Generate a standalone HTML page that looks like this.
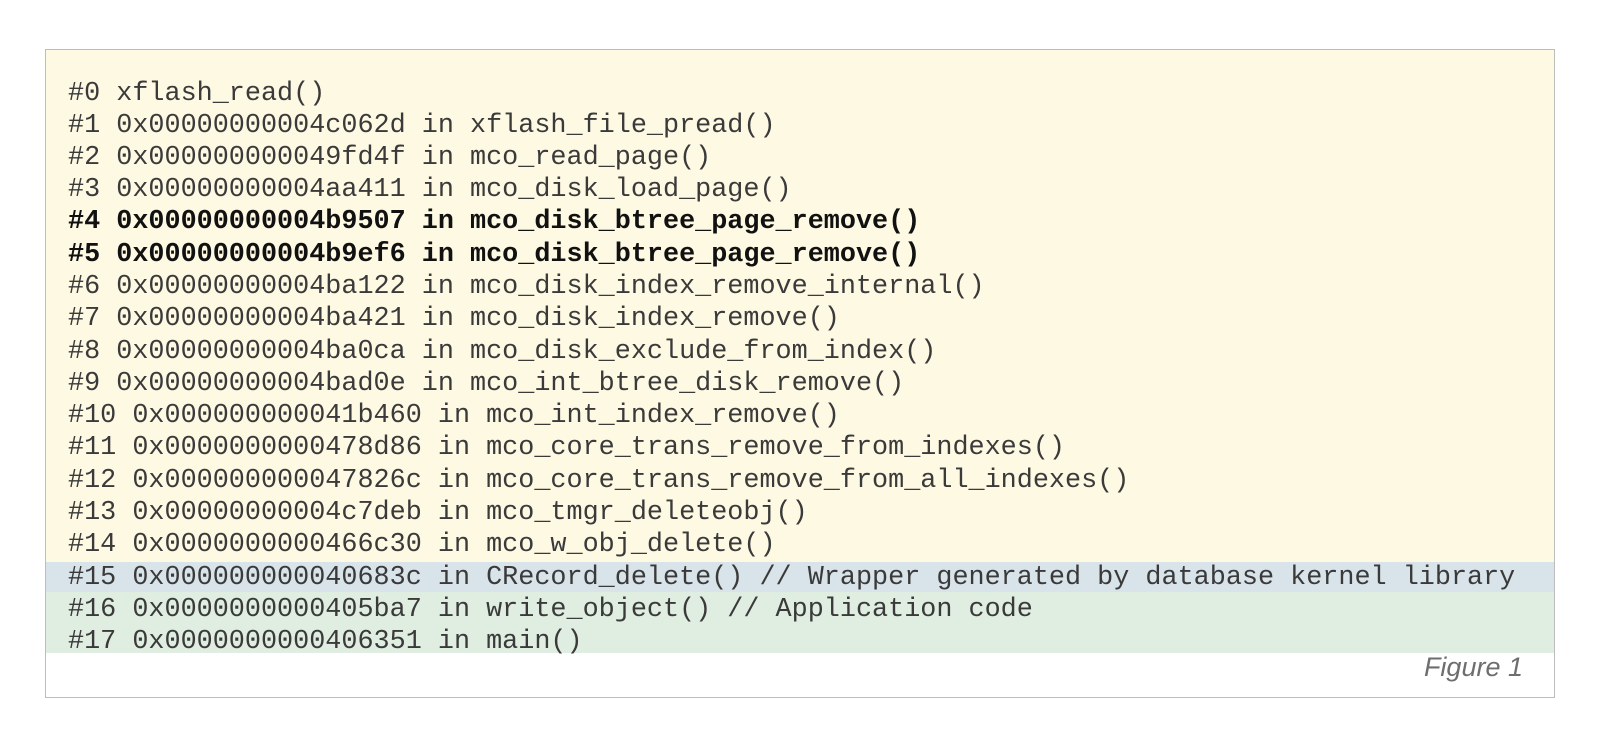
<!DOCTYPE html>
<html><head><style>
html,body{margin:0;padding:0;background:#fff;width:1600px;height:739px;overflow:hidden}
.box{position:absolute;left:45px;top:49px;width:1508px;height:647px;border:1px solid #bdbdbd;background:#fff}
.band{position:absolute;left:46px;width:1508px}
.l{position:absolute;left:68px;font-family:"Liberation Mono",monospace;font-size:26.8px;line-height:32px;height:32px;color:#3a3a3a;white-space:pre}
.b{font-weight:bold;color:#111}
.fig{position:absolute;right:77px;top:652px;font-family:"Liberation Sans",sans-serif;font-style:italic;font-size:27px;color:#6e6e6e}
</style></head><body>
<div class="box"></div>
<div class="band" style="top:50px;height:512px;background:#fef9e3"></div>
<div class="band" style="top:562px;height:30px;background:#d9e3ea"></div>
<div class="band" style="top:592px;height:61px;background:#e0ede1"></div>
<div class="l" style="top:78px">#0 xflash_read()</div>
<div class="l" style="top:110px">#1 0x00000000004c062d in xflash_file_pread()</div>
<div class="l" style="top:142px">#2 0x000000000049fd4f in mco_read_page()</div>
<div class="l" style="top:174px">#3 0x00000000004aa411 in mco_disk_load_page()</div>
<div class="l b" style="top:206px">#4 0x00000000004b9507 in mco_disk_btree_page_remove()</div>
<div class="l b" style="top:239px">#5 0x00000000004b9ef6 in mco_disk_btree_page_remove()</div>
<div class="l" style="top:271px">#6 0x00000000004ba122 in mco_disk_index_remove_internal()</div>
<div class="l" style="top:303px">#7 0x00000000004ba421 in mco_disk_index_remove()</div>
<div class="l" style="top:336px">#8 0x00000000004ba0ca in mco_disk_exclude_from_index()</div>
<div class="l" style="top:368px">#9 0x00000000004bad0e in mco_int_btree_disk_remove()</div>
<div class="l" style="top:400px">#10 0x000000000041b460 in mco_int_index_remove()</div>
<div class="l" style="top:432px">#11 0x0000000000478d86 in mco_core_trans_remove_from_indexes()</div>
<div class="l" style="top:465px">#12 0x000000000047826c in mco_core_trans_remove_from_all_indexes()</div>
<div class="l" style="top:497px">#13 0x00000000004c7deb in mco_tmgr_deleteobj()</div>
<div class="l" style="top:529px">#14 0x0000000000466c30 in mco_w_obj_delete()</div>
<div class="l" style="top:562px">#15 0x000000000040683c in CRecord_delete() // Wrapper generated by database kernel library</div>
<div class="l" style="top:594px">#16 0x0000000000405ba7 in write_object() // Application code</div>
<div class="l" style="top:626px">#17 0x0000000000406351 in main()</div>
<div class="fig">Figure 1</div>
</body></html>
